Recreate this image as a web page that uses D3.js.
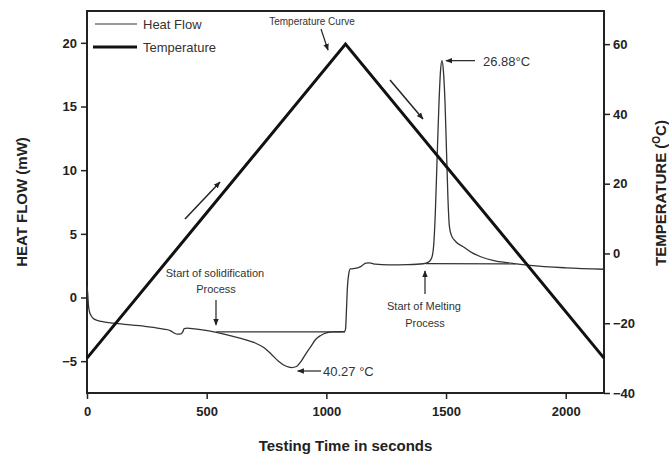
<!DOCTYPE html>
<html>
<head>
<meta charset="utf-8">
<script src="https://cdn.jsdelivr.net/npm/d3@7"></script>
<style>
  body { margin: 0; background: #fff; }
  svg text { font-family: "Liberation Sans", Arial, sans-serif; }
</style>
</head>
<body>
<div id="chart"></div>
<script>
// time (s), heat flow (mW)
const heatFlow = [
  [0, 0.9], [3, 0.3], [6, -0.6], [10, -1.1], [18, -1.45], [30, -1.7], [60, -1.88],
  [110, -2.02], [180, -2.15], [250, -2.28], [320, -2.48], [350, -2.62], [365, -2.8],
  [378, -2.88], [392, -2.85], [400, -2.7], [406, -2.45], [420, -2.4], [450, -2.47],
  [530, -2.7], [610, -3.05], [660, -3.3], [700, -3.55], [740, -3.95], [770, -4.45],
  [800, -5.0], [830, -5.38], [855, -5.5], [875, -5.42], [895, -5.0], [915, -4.4],
  [935, -3.85], [955, -3.3], [975, -3.0], [1000, -2.78], [1030, -2.7], [1075, -2.68],
  [1080, -2.5], [1084, -1.0], [1088, 0.8], [1094, 1.9], [1100, 2.25], [1125, 2.3],
  [1145, 2.45], [1165, 2.7], [1180, 2.72], [1205, 2.62], [1260, 2.56], [1340, 2.58],
  [1405, 2.65], [1428, 2.8], [1440, 3.1], [1448, 4.0], [1455, 6.5], [1462, 10.5],
  [1470, 15.0], [1477, 17.8], [1483, 18.6], [1489, 17.8], [1496, 15.2], [1502, 11.5],
  [1508, 7.8], [1514, 5.6], [1522, 4.9], [1540, 4.4], [1575, 3.95], [1610, 3.5],
  [1645, 3.2], [1700, 2.9], [1760, 2.72], [1850, 2.52], [2000, 2.33], [2160, 2.22]
];
// integration baselines (mW)
const solidBaseline = [[540, -2.7], [1078, -2.7]];
const meltBaseline = [[1415, 2.66], [1790, 2.64]];
// time (s), temperature (°C)
const temperature = [[0, -30], [1080, 60], [2160, -30]];

const xTicks = [0, 500, 1000, 1500, 2000];
const hfTicks = [-5, 0, 5, 10, 15, 20];
const tempTicks = [-40, -20, 0, 20, 40, 60];

const W = 669, H = 457;
const margin = { top: 11, right: 65, bottom: 64, left: 87 };

const svg = d3.select("#chart").append("svg")
  .attr("width", W).attr("height", H);

const defs = svg.append("defs");
defs.append("marker")
  .attr("id", "arrow")
  .attr("viewBox", "0 0 10 10")
  .attr("refX", 9).attr("refY", 5)
  .attr("markerWidth", 7).attr("markerHeight", 7)
  .attr("markerUnits", "userSpaceOnUse")
  .attr("orient", "auto")
  .append("path")
  .attr("d", "M0,1 L10,5 L0,9 Z")
  .attr("fill", "#222");

const x = d3.scaleLinear().domain([0, 2160]).range([margin.left, W - margin.right]);
const yL = d3.scaleLinear().domain([-7.5, 22.5]).range([H - margin.bottom, margin.top]);
const yR = d3.scaleLinear().domain([-40, 69.5]).range([H - margin.bottom, margin.top]);

// frame
svg.append("rect")
  .attr("x", margin.left).attr("y", margin.top)
  .attr("width", W - margin.left - margin.right)
  .attr("height", H - margin.top - margin.bottom)
  .attr("fill", "none").attr("stroke", "#222").attr("stroke-width", 2);

function styleAxis(g) {
  g.select(".domain").remove();
  g.selectAll(".tick line").attr("stroke", "#222").attr("stroke-width", 1.5);
  g.selectAll(".tick text")
    .attr("fill", "#222")
    .style("font-size", "13px")
    .style("font-weight", "bold");
}

svg.append("g")
  .attr("transform", `translate(0,${H - margin.bottom})`)
  .call(d3.axisBottom(x).tickValues(xTicks).tickFormat(d3.format("d")).tickSize(6).tickPadding(8))
  .call(styleAxis);

svg.append("g")
  .attr("transform", `translate(${margin.left},0)`)
  .call(d3.axisLeft(yL).tickValues(hfTicks).tickSize(6).tickPadding(4))
  .call(styleAxis);

svg.append("g")
  .attr("transform", `translate(${W - margin.right},0)`)
  .call(d3.axisRight(yR).tickValues(tempTicks).tickSize(6).tickPadding(3))
  .call(styleAxis);

// lines
const hfLine = d3.line().x(d => x(d[0])).y(d => yL(d[1])).curve(d3.curveMonotoneX);
const straight = d3.line().x(d => x(d[0])).y(d => yL(d[1]));
const tLine = d3.line().x(d => x(d[0])).y(d => yR(d[1]));

svg.append("path").datum(solidBaseline).attr("d", straight)
  .attr("fill", "none").attr("stroke", "#333").attr("stroke-width", 1.2);
svg.append("path").datum(meltBaseline).attr("d", straight)
  .attr("fill", "none").attr("stroke", "#333").attr("stroke-width", 1.2);
svg.append("path").datum(heatFlow).attr("d", hfLine)
  .attr("fill", "none").attr("stroke", "#333").attr("stroke-width", 1.3);
svg.append("path").datum(temperature).attr("d", tLine)
  .attr("fill", "none").attr("stroke", "#111").attr("stroke-width", 3);

// legend
const legend = svg.append("g");
legend.append("line").attr("x1", 95).attr("x2", 137).attr("y1", 24).attr("y2", 24)
  .attr("stroke", "#333").attr("stroke-width", 1.2);
legend.append("text").attr("x", 143).attr("y", 29).text("Heat Flow")
  .style("font-size", "13px").attr("fill", "#333");
legend.append("line").attr("x1", 93).attr("x2", 137).attr("y1", 47).attr("y2", 47)
  .attr("stroke", "#111").attr("stroke-width", 3);
legend.append("text").attr("x", 143).attr("y", 52).text("Temperature")
  .style("font-size", "13px").attr("fill", "#333");

// annotations
function arrow(x1, y1, x2, y2, w) {
  svg.append("line")
    .attr("x1", x1).attr("y1", y1).attr("x2", x2).attr("y2", y2)
    .attr("stroke", "#222").attr("stroke-width", w || 1.2)
    .attr("marker-end", "url(#arrow)");
}
function label(tx, ty, str, size, anchor) {
  return svg.append("text").attr("x", tx).attr("y", ty)
    .attr("text-anchor", anchor || "middle")
    .attr("fill", "#333")
    .style("font-size", size + "px")
    .text(str);
}

label(312, 25, "Temperature Curve", 10);
arrow(321, 29, 328, 50);

arrow(185, 219, 220, 182, 1.5);
arrow(390, 80, 423, 119, 1.5);

const peakT = 1483, peakV = 18.6;
arrow(475, yL(peakV), x(peakT) + 4, yL(peakV));
label(483, yL(peakV) + 5, "26.88°C", 13, "start");

const valT = 855, valV = -5.5;
arrow(321, 371, x(valT) + 6, 371);
label(323, 376, "40.27 °C", 13, "start");

label(215, 277, "Start of solidification", 11);
label(216, 293, "Process", 11);
arrow(216, 300, 216, 325);

label(424, 310, "Start of Melting", 11);
label(425, 327, "Process", 11);
arrow(425, 294, 425, 271);

// axis titles
svg.append("text")
  .attr("transform", `translate(${(margin.left + W - margin.right) / 2},451)`)
  .attr("text-anchor", "middle")
  .style("font-size", "15px").style("font-weight", "bold").attr("fill", "#222")
  .text("Testing Time in seconds");

svg.append("text")
  .attr("transform", `translate(27,${(margin.top + H - margin.bottom) / 2}) rotate(-90)`)
  .attr("text-anchor", "middle")
  .style("font-size", "15px").style("font-weight", "bold").attr("fill", "#222")
  .text("HEAT FLOW (mW)");

const rt = svg.append("text")
  .attr("transform", `translate(666,193) rotate(-90)`)
  .attr("text-anchor", "middle")
  .style("font-size", "15px").style("font-weight", "bold").attr("fill", "#222");
rt.append("tspan").text("TEMPERATURE (");
rt.append("tspan").attr("dy", -6).style("font-size", "10px").text("O");
rt.append("tspan").attr("dy", 6).text("C)");
</script>
</body>
</html>
